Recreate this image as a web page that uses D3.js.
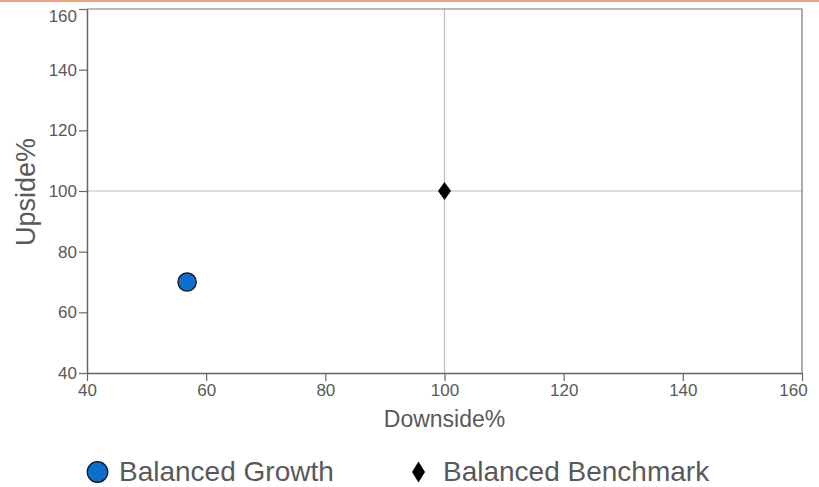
<!DOCTYPE html>
<html>
<head>
<meta charset="utf-8">
<script src="https://cdn.jsdelivr.net/npm/d3@7"></script>
<style>
  html, body { margin: 0; padding: 0; background: #fff; }
  svg { display: block; font-family: Arial, "Liberation Sans", sans-serif; }
</style>
</head>
<body>
<svg id="chart" width="819" height="487"></svg>
<script>
// Upside / downside capture figures
const seriesNames = ["Balanced Growth", "Balanced Benchmark"];
const downside = [56.8, 100];
const upside = [70, 100];
const xTicks = [40, 60, 80, 100, 120, 140, 160];
const yTicks = [40, 60, 80, 100, 120, 140, 160];

const svg = d3.select("#chart");
const W = 819, H = 487;
const plot = { left: 87, right: 802, top: 9, bottom: 373 };
const FONT = "Arial, 'Liberation Sans', sans-serif";

// thin accent rule across the top
svg.append("rect").attr("x", 0).attr("y", 0).attr("width", W).attr("height", 2)
  .attr("fill", "#e9a27c");

const x = d3.scaleLinear().domain([40, 160]).range([plot.left, plot.right]);
const y = d3.scaleLinear().domain([40, 160]).range([plot.bottom, plot.top]);

const axisColor = "#666";
const textColor = "#595959";

// reference lines at 100 / 100
svg.append("line").attr("x1", x(100)).attr("x2", x(100))
  .attr("y1", plot.top).attr("y2", plot.bottom)
  .attr("stroke", "#bdbdbd").attr("stroke-width", 1.2);
svg.append("line").attr("x1", plot.left).attr("x2", plot.right)
  .attr("y1", y(100)).attr("y2", y(100))
  .attr("stroke", "#bdbdbd").attr("stroke-width", 1.2);

// frame: top and right edges
svg.append("path")
  .attr("d", `M${plot.left},${plot.top}H${plot.right}V${plot.bottom}`)
  .attr("fill", "none").attr("stroke", "#777").attr("stroke-width", 1.2);

// x axis
const gx = svg.append("g").attr("transform", `translate(0,${plot.bottom})`)
  .call(d3.axisBottom(x).tickValues(xTicks).tickSize(8).tickSizeOuter(0).tickPadding(3));
// y axis
const gy = svg.append("g").attr("transform", `translate(${plot.left},0)`)
  .call(d3.axisLeft(y).tickValues(yTicks).tickSize(8).tickSizeOuter(0).tickPadding(2));

[gx, gy].forEach(g => {
  g.attr("font-size", null).attr("font-family", null);
  g.select(".domain").attr("stroke", axisColor).attr("stroke-width", 1.5);
  g.selectAll(".tick line").attr("stroke", axisColor).attr("stroke-width", 1.2);
  g.selectAll(".tick text").attr("fill", textColor)
    .attr("font-size", 17).attr("font-family", FONT);
});
// keep the end labels inside the frame
gx.selectAll(".tick text").filter(d => d === 160).attr("dx", -9);
gy.selectAll(".tick text").filter(d => d === 160).attr("dy", "0.75em");

// axis titles
svg.append("text").attr("x", x(100)).attr("y", 427)
  .attr("text-anchor", "middle").attr("fill", textColor)
  .attr("font-size", 23).attr("font-family", FONT).text("Downside%");
svg.append("text")
  .attr("transform", `translate(35,${192}) rotate(-90)`)
  .attr("text-anchor", "middle").attr("fill", textColor)
  .attr("font-size", 27).attr("font-family", FONT).text("Upside%");

// diamond marker, half-width w and half-height h
const diamondPath = (w, h) => `M0,${-h}L${w},0L0,${h}L${-w},0Z`;

// points
svg.append("circle")
  .attr("cx", x(downside[0])).attr("cy", y(upside[0])).attr("r", 9.2)
  .attr("fill", "#0b6fcb").attr("stroke", "#111").attr("stroke-width", 1.2);
svg.append("path")
  .attr("d", diamondPath(6.5, 9))
  .attr("transform", `translate(${x(downside[1])},${y(upside[1])})`)
  .attr("fill", "#000");

// legend
const legY = 472;
svg.append("circle").attr("cx", 97.5).attr("cy", legY).attr("r", 10.3)
  .attr("fill", "#0b6fcb").attr("stroke", "#111").attr("stroke-width", 1.2);
svg.append("text").attr("x", 119).attr("y", legY + 9).attr("fill", textColor)
  .attr("font-size", 28).attr("font-family", FONT).text(seriesNames[0]);
svg.append("path").attr("d", diamondPath(6.5, 10.5))
  .attr("transform", `translate(418.5,${legY})`)
  .attr("fill", "#000");
svg.append("text").attr("x", 443).attr("y", legY + 9).attr("fill", textColor)
  .attr("font-size", 28).attr("font-family", FONT).text(seriesNames[1]);
</script>
</body>
</html>
